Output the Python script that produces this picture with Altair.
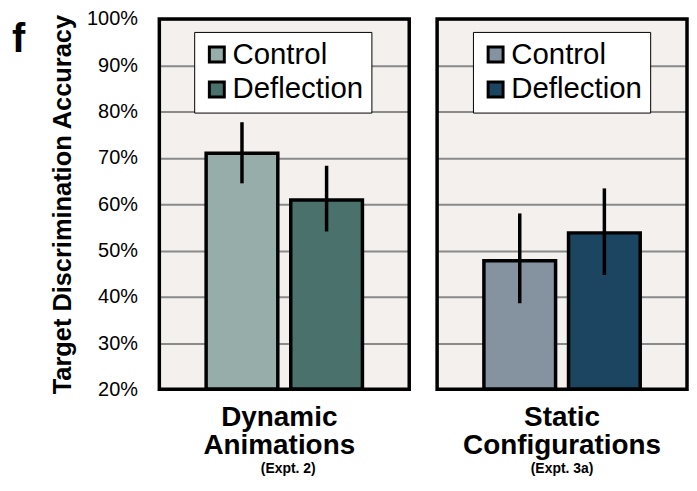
import altair as alt
import pandas as pd

conditions = ["Control", "Deflection"]
dyn_mean = [0.710, 0.609]
dyn_lo = [0.645, 0.541]
dyn_hi = [0.777, 0.683]
sta_mean = [0.478, 0.538]
sta_lo = [0.386, 0.447]
sta_hi = [0.580, 0.634]
dyn_colors = ["#97ADA9", "#4A716C"]
sta_colors = ["#8592A0", "#1B4560"]
panel_titles = ["Dynamic\nAnimations", "Static\nConfigurations"]
panel_notes = ["(Expt. 2)", "(Expt. 3a)"]
y_ticks = [0.2, 0.3, 0.4, 0.5, 0.6, 0.7, 0.8, 0.9, 1.0]
panel_letter = ["f"]

W, H = 251, 372
FONT = "Liberation Sans"


def panel(mean, lo, hi, colors, title, note, first, legend_x, title_dx, note_dx):
    df = pd.DataFrame({"cond": conditions, "mean": mean, "lo": lo, "hi": hi})
    x = alt.X("cond:N", axis=None, sort=conditions,
              scale=alt.Scale(paddingInner=0.153, paddingOuter=0.553))
    yscale = alt.Scale(domain=[0.2, 1.0], nice=False, zero=False)
    if first:
        yaxis = alt.Axis(values=y_ticks, format=".0%", grid=True, ticks=False, domain=False,
                         labelPadding=22, labelFontSize=20, labelColor="black",
                         title="Target Discrimination Accuracy", titleFontSize=25.5,
                         titleFontWeight="bold", titlePadding=11, titleColor="black",
                         gridColor="#8a8a8a", gridWidth=2)
    else:
        yaxis = alt.Axis(values=y_ticks, grid=True, labels=False, ticks=False, domain=False,
                         title=None, gridColor="#8a8a8a", gridWidth=2)
    legend = alt.Legend(orient="none", legendX=legend_x, legendY=13, title=None,
                        fillColor="white", strokeColor="black", padding=8,
                        labelFontSize=29.5, labelColor="black", labelFont=FONT,
                        symbolType="square", symbolSize=225, symbolStrokeColor="black",
                        symbolStrokeWidth=3, symbolOpacity=1, rowPadding=4, labelOffset=1)
    bars = alt.Chart(df).mark_bar(stroke="black", strokeWidth=3.5, opacity=1).encode(
        x=x,
        y=alt.Y("mean:Q", scale=yscale, axis=yaxis),
        y2=alt.datum(0.2),
        color=alt.Color("cond:N", scale=alt.Scale(domain=conditions, range=colors), legend=legend),
    )
    errs = alt.Chart(df).mark_rule(color="black", strokeWidth=3.5).encode(
        x=x, y=alt.Y("lo:Q", scale=yscale), y2="hi:Q"
    )
    border = alt.Chart(pd.DataFrame({"a": [0]})).mark_rect(
        fill=None, stroke="black", strokeWidth=3.5
    ).encode(x=alt.value(0), x2=alt.value(W), y=alt.value(0), y2=alt.value(H))
    tdf = pd.DataFrame({"label": [title], "note": [note]})
    ttl = alt.Chart(tdf).mark_text(lineBreak="\n", fontSize=28, fontWeight="bold",
                                   align="center", baseline="alphabetic", lineHeight=28,
                                   color="black").encode(
        x=alt.value(W / 2 + title_dx), y=alt.value(409), text="label:N")
    nt = alt.Chart(tdf).mark_text(fontSize=14, fontWeight="bold", align="center",
                                  baseline="alphabetic", color="black").encode(
        x=alt.value(W / 2 + note_dx), y=alt.value(456), text="note:N")
    layers = [bars, errs, border, ttl, nt]
    if first:
        f = alt.Chart(pd.DataFrame({"l": panel_letter})).mark_text(
            fontSize=40, fontWeight="bold", align="left", baseline="alphabetic", color="black"
        ).encode(x=alt.value(-148), y=alt.value(33), text="l:N")
        layers.append(f)
    return alt.layer(*layers).properties(width=W, height=H)


p1 = panel(dyn_mean, dyn_lo, dyn_hi, dyn_colors, panel_titles[0], panel_notes[0], True, 35, -5, 4)
p2 = panel(sta_mean, sta_lo, sta_hi, sta_colors, panel_titles[1], panel_notes[1], False, 36, 0, 0)

chart = alt.hconcat(p1, p2, spacing=24).resolve_scale(
    color="independent", y="independent"
).resolve_legend(color="independent").properties(
    padding={"left": 4, "top": 0, "right": 0, "bottom": 0}
).configure(font=FONT).configure_view(fill="#F3F0EE", stroke=None)

chart.save("out.html", embed_options={"renderer": "svg", "actions": False})
